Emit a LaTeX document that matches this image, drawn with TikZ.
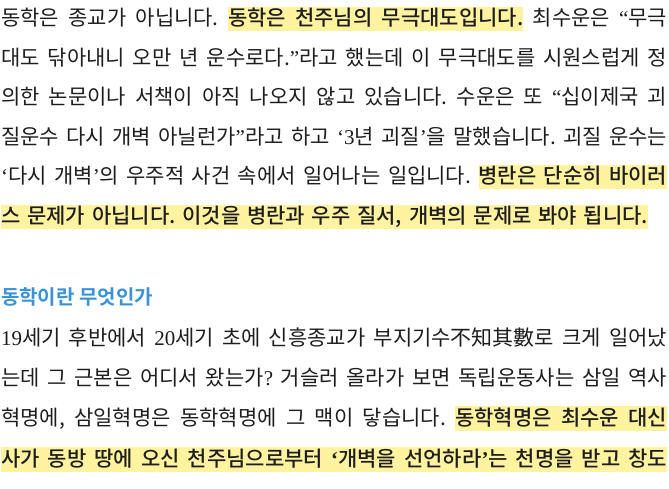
\documentclass[tikz,border=0pt]{standalone}
\usepackage{fontspec}
\setmainfont{Noto Sans CJK KR}[BoldFont={Noto Sans CJK KR Medium}]
\newfontfamily\headfont{Noto Sans CJK KR Bold}
\newfontfamily\lat{Liberation Serif}
\definecolor{hly}{RGB}{255,243,160}
\definecolor{txt}{RGB}{30,30,30}
\definecolor{headblue}{RGB}{58,147,214}
\newcommand\q[1]{{\lat #1}}
\newcommand\hlt[1]{\setbox0\hbox{\bfseries #1}\rlap{\color{hly}\vrule width\wd0 height 19bp depth 5.5bp}\box0\relax}
\newcommand\hsp{{\color{hly}\leaders\vrule height 19bp depth 5.5bp\hskip\fontdimen2\font plus\fontdimen3\font minus\fontdimen4\font}}
\frenchspacing
\tikzset{
  bodyline/.style={anchor=base west, inner sep=0pt, text=txt, font=\fontsize{21bp}{24bp}\selectfont},
  headline/.style={anchor=base west, inner sep=0pt, text=headblue, font=\headfont\fontsize{20bp}{24bp}\selectfont}
}
\begin{document}
\begin{tikzpicture}[x=1bp,y=-1bp]
\fill[white] (0,0) rectangle (669,489);
\useasboundingbox (0,0) rectangle (669,489);
\node[bodyline] (l1) at (1,26) {\hbox to 666bp{동학은 종교가 아닙니다. \hlt{동학은}\hsp\hlt{천주님의}\hsp\hlt{무극대도입니다.} 최수운은 \q{“}무극}};
\node[bodyline] (l2) at (1,65.5) {\hbox to 666bp{대도 닦아내니 오만 년 운수로다.\q{”}라고 했는데 이 무극대도를 시원스럽게 정}};
\node[bodyline] (l3) at (1,105) {\hbox to 666bp{의한 논문이나 서책이 아직 나오지 않고 있습니다. 수운은 또 \q{“}십이제국 괴}};
\node[bodyline] (l4) at (1,145) {\hbox to 666bp{질운수 다시 개벽 아닐런가\q{”}라고 하고 \q{‘3}년 괴질\q{’}을 말했습니다. 괴질 운수는}};
\node[bodyline] (l5) at (1,184) {\hbox to 666bp{\q{‘}다시 개벽\q{’}의 우주적 사건 속에서 일어나는 일입니다. \hlt{병란은}\hsp\hlt{단순히}\hsp\hlt{바이러}}};
\node[bodyline] (l6) at (1,224) {\hbox to 647bp{\hlt{스}\hsp\hlt{문제가}\hsp\hlt{아닙니다.}\hsp\hlt{이것을}\hsp\hlt{병란과}\hsp\hlt{우주}\hsp\hlt{질서,}\hsp\hlt{개벽의}\hsp\hlt{문제로}\hsp\hlt{봐야}\hsp\hlt{됩니다.}}};
\node[headline] (h) at (1,304.5) {동학이란 무엇인가};
\node[bodyline] (l8) at (1,345) {\hbox to 666bp{\q{19}세기 후반에서 \q{20}세기 초에 신흥종교가 부지기수不知其數로 크게 일어났}};
\node[bodyline] (l9) at (1,385) {\hbox to 666bp{는데 그 근본은 어디서 왔는가\q{?} 거슬러 올라가 보면 독립운동사는 삼일 역사}};
\node[bodyline] (l10) at (1,425) {\hbox to 666bp{혁명에, 삼일혁명은 동학혁명에 그 맥이 닿습니다. \hlt{동학혁명은}\hsp\hlt{최수운}\hsp\hlt{대신}}};
\node[bodyline] (l11) at (1,466) {\hbox to 666bp{\hlt{사가}\hsp\hlt{동방}\hsp\hlt{땅에}\hsp\hlt{오신}\hsp\hlt{천주님으로부터}\hsp\hlt{\q{‘}개벽을}\hsp\hlt{선언하라\q{’}는}\hsp\hlt{천명을}\hsp\hlt{받고}\hsp\hlt{창도}}};
\end{tikzpicture}
\end{document}
